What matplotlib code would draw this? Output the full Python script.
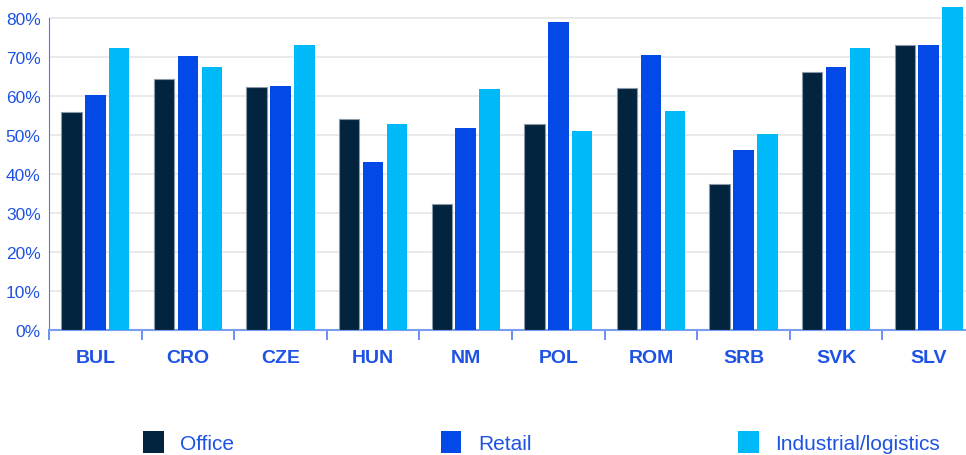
import numpy as np
import matplotlib
matplotlib.use("Agg")
import matplotlib.pyplot as plt
from matplotlib.ticker import FuncFormatter, FixedLocator

countries = ["BUL", "CRO", "CZE", "HUN", "NM", "POL", "ROM", "SRB", "SVK", "SLV"]
office = [55.9, 64.2, 62.3, 54.0, 32.2, 52.7, 62.0, 37.4, 66.0, 72.9]
retail = [60.2, 70.2, 62.5, 43.0, 51.7, 78.9, 70.4, 46.1, 67.4, 73.0]
industrial = [72.2, 67.4, 73.0, 52.7, 61.7, 50.9, 56.1, 50.2, 72.2, 82.7]

navy = "#03243f"
blue = "#0349e8"
cyan = "#00b9f9"
label_blue = "#1e52e4"

plt.rcParams["font.family"] = ["Liberation Sans", "DejaVu Sans"]

fig = plt.figure(figsize=(9.66, 4.56), dpi=100)
ax = fig.add_axes([49 / 966, 125 / 456, 926 / 966, 331 / 456])

x = np.arange(len(countries))
w = 0.222
step = 0.258
ax.bar(x - step, office, w, color=navy, edgecolor="#8b98a6", linewidth=0.8, label="Office", zorder=3)
ax.bar(x, retail, w, color=blue, label="Retail", zorder=3)
ax.bar(x + step, industrial, w, color=cyan, label="Industrial/logistics", zorder=3)

ax.set_xlim(-0.5, len(countries) - 0.5)
ax.set_ylim(0, 84.8)
ax.set_yticks(np.arange(0, 81, 10))
ax.yaxis.set_major_formatter(FuncFormatter(lambda v, p: f"{v:.0f}%"))
ax.grid(axis="y", color="#e6e6e6", linewidth=1.2, zorder=0)

ax.set_xticks(x)
ax.set_xticklabels(countries, fontweight="bold", fontsize=14, color=label_blue)
ax.xaxis.set_minor_locator(FixedLocator(np.arange(-0.5, len(countries), 1.0)))
ax.tick_params(axis="x", which="major", length=0, pad=14)
ax.tick_params(axis="x", which="minor", length=7, width=1.2, color="#4f7cf0", direction="out")
ax.tick_params(axis="y", length=0, pad=6, labelsize=12.5, labelcolor=label_blue)

for s in ["top", "right"]:
    ax.spines[s].set_visible(False)
ax.spines["left"].set_color("#4f7cf0")
ax.spines["left"].set_bounds(0, 80)
ax.spines["bottom"].set_color("#7a9cf2")
ax.spines["bottom"].set_linewidth(1.5)

handles, labels = ax.get_legend_handles_labels()
leg = fig.legend(handles, labels, loc="center left", bbox_to_anchor=(124 / 966, 13 / 456),
                 ncol=3, frameon=False, fontsize=15, columnspacing=9.9,
                 handlelength=1.0, handleheight=1.2, handletextpad=0.8)
for t in leg.get_texts():
    t.set_color(label_blue)
for h in leg.legend_handles:
    h.set_edgecolor("none")

fig.savefig("out.png", dpi=100)
